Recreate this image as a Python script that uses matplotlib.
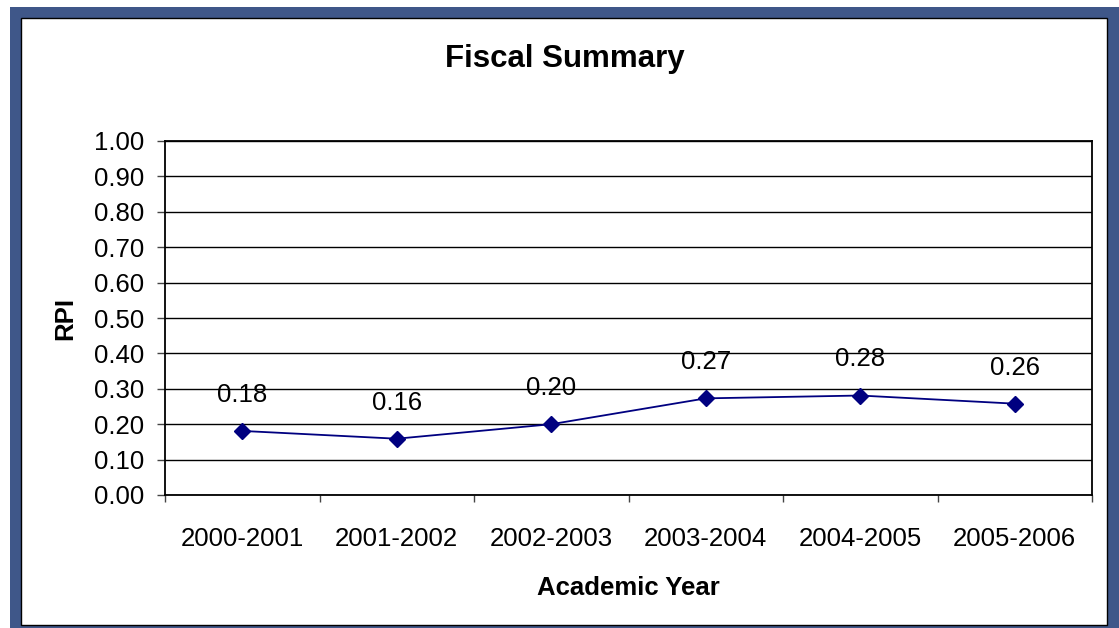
import matplotlib.pyplot as plt
from matplotlib.patches import Rectangle
import numpy as np

# Data
years = ['2000-2001', '2001-2002', '2002-2003', '2003-2004', '2004-2005', '2005-2006']
rpi = [0.181, 0.159, 0.200, 0.273, 0.281, 0.258]
yticks = [0.0, 0.1, 0.2, 0.3, 0.4, 0.5, 0.6, 0.7, 0.8, 0.9, 1.0]

plt.rcParams.update({'font.family': ['Liberation Sans', 'DejaVu Sans']})

W, H = 1119, 628
fig = plt.figure(figsize=(W / 100, H / 100), dpi=100)
fig.patch.set_facecolor('white')

# blue outer frame and white panel with black edge (pixel coords, top-left origin)
def px_rect(x0, y0, x1, y1, **kw):
    return Rectangle((x0 / W, 1 - y1 / H), (x1 - x0) / W, (y1 - y0) / H,
                     transform=fig.transFigure, **kw)

fig.patches.append(px_rect(10, 7, W, H, facecolor='#3f5789', edgecolor='none', zorder=0))
fig.patches.append(px_rect(21, 18, 1107, 625, facecolor='white', edgecolor='black',
                           linewidth=1.0, zorder=1))

# plot area
left, top, right, bottom = 165, 141, 1092, 495
ax = fig.add_axes([left / W, 1 - bottom / H, (right - left) / W, (bottom - top) / H])
ax.set_zorder(2)
ax.set_facecolor('white')

x = np.arange(len(years))
ax.plot(x, rpi, color='#000080', linewidth=1.3, marker='D', markersize=8,
        markerfacecolor='#000080', markeredgecolor='#000080', zorder=3)

for xi, v in zip(x, rpi):
    ax.annotate(f'{v:.2f}', (xi, v), xytext=(0, 26), textcoords='offset points',
                ha='center', va='center', fontsize=18.5)

ax.set_xlim(-0.5, len(years) - 0.5)
ax.set_ylim(0, 1.0)
ax.set_yticks(yticks)
ax.set_yticklabels([f'{t:.2f}' for t in yticks], fontsize=18.5)
ax.yaxis.grid(True, color='black', linewidth=1.0)
ax.set_axisbelow(True)

# category labels centered, ticks at category boundaries
ax.set_xticks(x)
ax.set_xticklabels(years, fontsize=18.5)
ax.tick_params(axis='x', which='major', length=0, pad=23)
ax.set_xticks(np.arange(len(years) + 1) - 0.5, minor=True)
ax.tick_params(axis='x', which='minor', length=5, width=1, color='#444444')
ax.tick_params(axis='y', length=6, width=1, color='#444444', pad=9)

for s in ax.spines.values():
    s.set_linewidth(1.3)
    s.set_color('black')

ax.set_xlabel('Academic Year', fontsize=18.5, fontweight='bold', labelpad=18)
ax.set_ylabel('RPI', fontsize=18.5, fontweight='bold', labelpad=12)

fig.text(565 / W, 1 - 59 / H, 'Fiscal Summary', ha='center', va='center',
         fontsize=22.5, fontweight='bold')

fig.savefig('out.png', dpi=100)
